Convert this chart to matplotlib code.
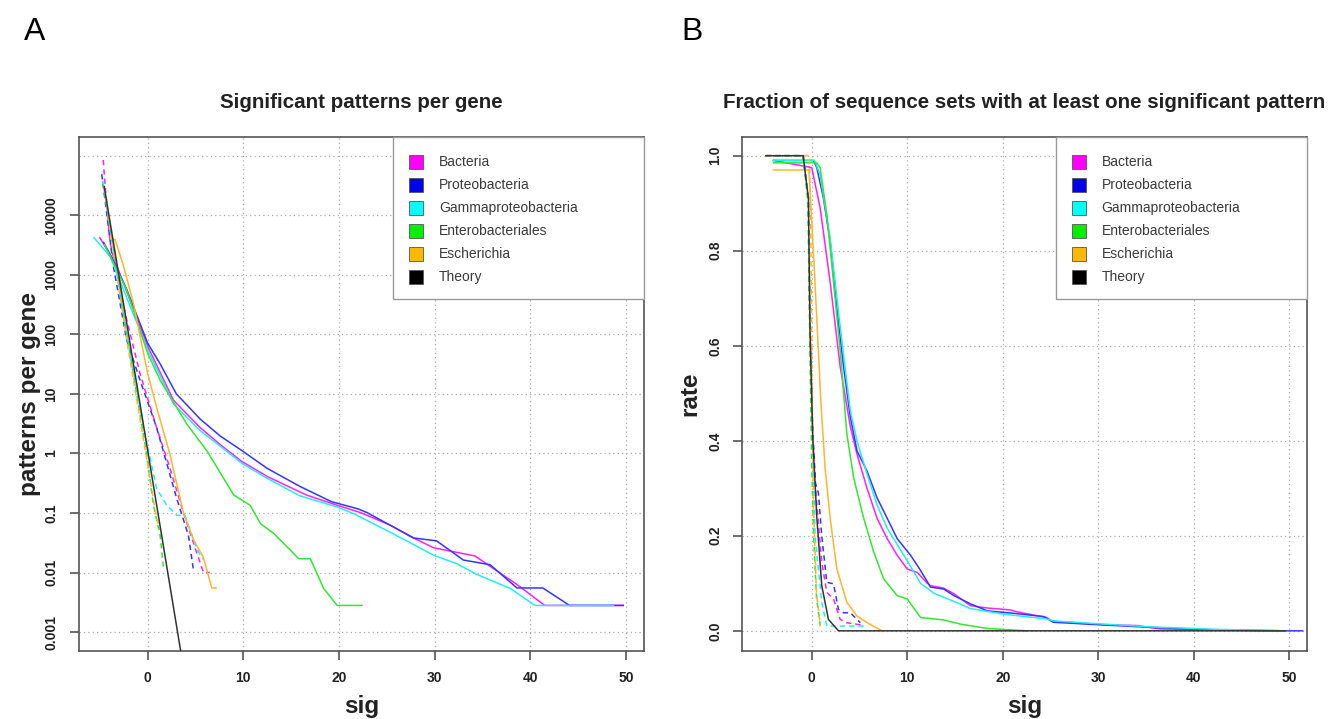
import matplotlib
matplotlib.use("Agg")
import matplotlib.pyplot as plt
from matplotlib.patches import Rectangle
from matplotlib.ticker import FixedLocator, NullFormatter

plt.rcParams['font.family'] = ['Liberation Sans', 'DejaVu Sans']

# ---------------- data ----------------
names = ["Bacteria", "Proteobacteria", "Gammaproteobacteria",
         "Enterobacteriales", "Escherichia", "Theory"]
line_colors = ["#FF22FF", "#3535FF", "#22EEF2", "#33E633", "#FFB52E", "#333333"]
legend_colors = ["#FF00FF", "#0000EE", "#00FFFF", "#00EE00", "#FFB800", "#000000"]

# Panel A: significant patterns per gene (solid = observed, dashed = shuffled)
a_bac_x = [-5.0, -3.25, 0, 2.7, 5.5, 7.6, 9.8, 12.5, 16.6, 19.8, 22.2, 25.4, 27.5, 29.9, 34.2, 38.6, 41.5, 49.7]
a_bac_y = [4200, 1450, 63, 7.8, 2.7, 1.4, 0.74, 0.41, 0.20, 0.135, 0.102, 0.062, 0.040, 0.026, 0.019, 0.0063, 0.0028, 0.0028]
a_pro_x = [-4.6, -3.9, -2.2, 0, 1.3, 3.0, 5.5, 7.6, 9.7, 12.5, 15.9, 19.2, 22.0, 22.9, 27.8, 30.2, 33.0, 35.8, 38.6, 41.3, 44.1, 49.7]
a_pro_y = [3500, 2150, 575, 71, 32, 10, 3.76, 1.95, 1.16, 0.56, 0.28, 0.155, 0.117, 0.102, 0.038, 0.034, 0.0162, 0.0135, 0.0055, 0.0055, 0.0028, 0.0028]
a_gam_x = [-5.6, -3.9, 0, 2.7, 5.5, 7.6, 9.8, 12.5, 15.9, 19.8, 21.5, 25.4, 29.9, 32.3, 34.4, 37.9, 40.5, 48.7]
a_gam_y = [4200, 2000, 55, 6.8, 2.4, 1.32, 0.69, 0.38, 0.195, 0.126, 0.098, 0.047, 0.0195, 0.0141, 0.0093, 0.0054, 0.0028, 0.0028]
a_ent_x = [-4.5, -2.2, 0, 1.3, 4.1, 6.2, 9.0, 10.7, 11.8, 13.2, 15.8, 17.0, 18.4, 19.8, 22.4]
a_ent_y = [3200, 560, 48, 17, 3.1, 1.1, 0.2, 0.135, 0.066, 0.045, 0.017, 0.017, 0.0054, 0.0028, 0.0028]
a_esc_x = [-3.9, -3.4, -2.55, -1.5, 0, 0.94, 2.34, 3.73, 4.78, 5.83, 6.7, 7.16]
a_esc_y = [4000, 3900, 1450, 340, 22, 5.9, 0.95, 0.102, 0.036, 0.0178, 0.0055, 0.0055]
a_the_x = [-4.54, 3.44]
a_the_y = [30200, 0.00049]

a_bac_dx = [-4.64, -4.5, -3.94, -2.2, -0.8, 0.94, 2.34, 3.73, 4.78, 5.83, 6.5]
a_bac_dy = [85000, 40000, 3600, 178, 22, 2.7, 0.56, 0.102, 0.0316, 0.01, 0.01]
a_pro_dx = [-4.8, -3.6, -2.2, -0.8, 0.94, 3.04, 4.26, 4.78]
a_pro_dy = [49000, 1450, 81, 17, 2.7, 0.174, 0.042, 0.0112]
a_gam_dx = [-4.7, -2.2, -0.28, 0.94, 2.0, 3.04, 3.9, 5.13, 5.83]
a_gam_dy = [38000, 100, 2.1, 0.257, 0.135, 0.091, 0.091, 0.0245, 0.0166]
a_ent_dx = [-4.64, -2.2, -0.1, 0.6, 1.3, 1.64]
a_ent_dy = [33000, 105, 0.95, 0.135, 0.042, 0.0126]
a_esc_dx = [-4.57, -2.2, 0.07, 0.94, 1.3]
a_esc_dy = [29500, 81, 0.56, 0.079, 0.054]

# Panel B: fraction of sequence sets with at least one significant pattern
b_bac_x = [-4.0, 0.0, 0.88, 1.93, 2.98, 4.04, 4.74, 5.79, 6.84, 7.9, 8.95, 10.0, 11.05, 12.1, 12.44, 13.8, 14.9, 16.6, 18.4, 20.8, 21.5, 24.6, 25.2, 30.6, 34.1, 36.5, 42.0, 49.6]
b_bac_y = [0.99, 0.975, 0.89, 0.734, 0.556, 0.43, 0.372, 0.30, 0.237, 0.194, 0.159, 0.13, 0.123, 0.10, 0.095, 0.09, 0.078, 0.053, 0.048, 0.044, 0.04, 0.028, 0.02, 0.013, 0.011, 0.004, 0.002, 0.0]
b_pro_x = [-4.0, 0.18, 0.53, 1.23, 1.93, 2.63, 3.33, 4.04, 4.74, 5.79, 6.84, 7.9, 8.95, 10.35, 11.4, 12.44, 13.8, 14.9, 16.6, 18.4, 21.1, 24.3, 25.3, 29.9, 35.8, 42.7, 49.6, 51.4]
b_pro_y = [0.99, 0.99, 0.975, 0.91, 0.82, 0.68, 0.556, 0.45, 0.379, 0.336, 0.28, 0.237, 0.194, 0.159, 0.127, 0.092, 0.088, 0.074, 0.057, 0.042, 0.037, 0.030, 0.018, 0.013, 0.007, 0.0015, 0.0, 0.0]
b_gam_x = [-4.0, 0.3, 0.88, 1.93, 2.98, 4.04, 4.74, 5.79, 6.84, 7.9, 9.65, 11.4, 12.8, 15.6, 16.6, 20.1, 24.6, 25.3, 29.9, 35.8, 42.7, 49.6]
b_gam_y = [0.99, 0.99, 0.96, 0.826, 0.64, 0.464, 0.40, 0.33, 0.265, 0.216, 0.159, 0.10, 0.079, 0.056, 0.047, 0.035, 0.025, 0.021, 0.015, 0.008, 0.003, 0.0]
b_ent_x = [-4.0, 0.53, 0.88, 1.58, 2.28, 2.98, 3.68, 4.39, 5.44, 6.49, 7.54, 8.95, 10.0, 11.4, 13.8, 15.6, 18.4, 22.5]
b_ent_y = [0.985, 0.985, 0.975, 0.876, 0.734, 0.59, 0.414, 0.322, 0.237, 0.166, 0.109, 0.074, 0.067, 0.028, 0.023, 0.014, 0.005, 0.0]
b_esc_x = [-4.0, -0.3, -0.1, 0.3, 0.67, 0.95, 1.4, 1.93, 2.63, 3.68, 4.74, 6.14, 7.37]
b_esc_y = [0.97, 0.97, 0.9, 0.75, 0.6, 0.485, 0.343, 0.237, 0.13, 0.06, 0.031, 0.013, 0.0]
b_the_x = [-4.8, -0.9, -0.35, -0.18, 0.1, 0.53, 1.05, 1.75, 2.8, 49.6]
b_the_y = [1.0, 1.0, 0.91, 0.63, 0.41, 0.24, 0.095, 0.024, 0.0, 0.0]

b_bac_dx = [-4.8, -0.9, -0.35, -0.18, 0.1, 0.35, 1.05, 1.58, 2.28, 2.98, 3.68, 5.3]
b_bac_dy = [1.0, 1.0, 0.91, 0.63, 0.42, 0.31, 0.145, 0.081, 0.067, 0.024, 0.017, 0.012]
b_pro_dx = [-4.8, -0.9, -0.35, -0.18, 0.1, 0.4, 0.7, 1.05, 1.58, 2.28, 2.8, 3.33, 4.04, 5.1]
b_pro_dy = [1.0, 1.0, 0.91, 0.63, 0.42, 0.31, 0.29, 0.2, 0.102, 0.099, 0.045, 0.038, 0.038, 0.017]
b_gam_dx = [-4.8, -0.9, -0.35, -0.18, 0.0, 0.35, 1.05, 1.58, 5.8]
b_gam_dy = [1.0, 1.0, 0.91, 0.63, 0.48, 0.2, 0.06, 0.01, 0.01]
b_ent_dx = [-4.8, -0.9, -0.4, -0.2, 0.0, 0.2, 0.5, 0.9]
b_ent_dy = [1.0, 1.0, 0.9, 0.6, 0.35, 0.2, 0.07, 0.01]
b_esc_dx = [-4.8, -0.25, -0.1, 0.05, 0.2, 0.5, 0.9]
b_esc_dy = [1.0, 1.0, 0.85, 0.5, 0.25, 0.08, 0.01]

x_ticks = [0, 10, 20, 30, 40, 50]
a_yticks = [0.001, 0.01, 0.1, 1, 10, 100, 1000, 10000]
a_ylabels = ["0.001", "0.01", "0.1", "1", "10", "100", "1000", "10000"]
b_yticks = [0.0, 0.2, 0.4, 0.6, 0.8, 1.0]
b_ylabels = ["0.0", "0.2", "0.4", "0.6", "0.8", "1.0"]

# ---------------- figure ----------------
W, H = 1333, 719
fig = plt.figure(figsize=(W / 100, H / 100), dpi=100)

TOP, BOT = 136.7, 650.5
A_L, A_R = 78.7, 644.0
B_L, B_R = 742.3, 1306.7

def px_axes(l, r):
    return [l / W, (H - BOT) / H, (r - l) / W, (BOT - TOP) / H]

axA = fig.add_axes(px_axes(A_L, A_R))
axB = fig.add_axes(px_axes(B_L, B_R))

SPINE = "#555555"
GRID = dict(color="#aaaaaa", linestyle=(0, (1, 2.5)), linewidth=0.9)
LW = 1.1
DASH = (0, (3.5, 2.6))

def style(ax):
    for s in ax.spines.values():
        s.set_color(SPINE)
        s.set_linewidth(1.2)
    ax.tick_params(which="major", direction="out", length=6.5, width=1.2,
                   color=SPINE, labelcolor="#222222", labelsize=10, pad=8)
    for lab in ax.get_xticklabels() + ax.get_yticklabels():
        lab.set_fontweight("bold")

# ----- panel A -----
axA.set_yscale("log")
solidA = [(a_bac_x, a_bac_y), (a_pro_x, a_pro_y), (a_gam_x, a_gam_y),
          (a_ent_x, a_ent_y), (a_esc_x, a_esc_y)]
dashA = [(a_bac_dx, a_bac_dy), (a_pro_dx, a_pro_dy), (a_gam_dx, a_gam_dy),
         (a_ent_dx, a_ent_dy), (a_esc_dx, a_esc_dy)]
for (x, y), c in zip(dashA, line_colors):
    axA.plot(x, y, color=c, lw=LW, linestyle=DASH, zorder=3)
for (x, y), c in zip(solidA, line_colors):
    axA.plot(x, y, color=c, lw=LW, zorder=3)
axA.plot(a_the_x, a_the_y, color=line_colors[5], lw=LW, zorder=4)
axA.set_xlim(-7.21, 51.88)
axA.set_ylim(10 ** -3.31, 10 ** 5.32)
axA.set_xticks(x_ticks)
axA.set_xticklabels([str(v) for v in x_ticks])
axA.yaxis.set_major_locator(FixedLocator(a_yticks))
axA.set_yticklabels(a_ylabels, rotation=90, va="center")
axA.yaxis.set_minor_locator(FixedLocator([1e5]))
axA.yaxis.set_minor_formatter(NullFormatter())
axA.tick_params(which="minor", length=0)
axA.grid(True, which="both", **GRID)
axA.set_axisbelow(True)
style(axA)

# ----- panel B -----
solidB = [(b_bac_x, b_bac_y), (b_pro_x, b_pro_y), (b_gam_x, b_gam_y),
          (b_ent_x, b_ent_y), (b_esc_x, b_esc_y)]
dashB = [(b_bac_dx, b_bac_dy), (b_pro_dx, b_pro_dy), (b_gam_dx, b_gam_dy),
         (b_ent_dx, b_ent_dy), (b_esc_dx, b_esc_dy)]
for (x, y), c in zip(solidB, line_colors):
    axB.plot(x, y, color=c, lw=LW, zorder=3)
for (x, y), c in zip(dashB, line_colors):
    axB.plot(x, y, color=c, lw=LW, linestyle=DASH, zorder=3)
axB.plot(b_the_x, b_the_y, color=line_colors[5], lw=LW, zorder=4)
axB.set_xlim(-7.27, 51.83)
axB.set_ylim(-0.0414, 1.04)
axB.set_xticks(x_ticks)
axB.set_xticklabels([str(v) for v in x_ticks])
axB.set_yticks(b_yticks)
axB.set_yticklabels(b_ylabels, rotation=90, va="center")
axB.grid(True, **GRID)
axB.set_axisbelow(True)
style(axB)

# ----- legends (R-style box anchored at top-right of plot region) -----
def draw_legend(ax, left, right):
    w, h = right - left, BOT - TOP
    fx = lambda px: (px - left) / w
    fy = lambda py: (BOT - py) / h
    box_l = right - 250.7
    ax.add_patch(Rectangle((fx(box_l), fy(299.3)), fx(right) - fx(box_l),
                           fy(TOP) - fy(299.3), transform=ax.transAxes,
                           facecolor="white", edgecolor="#999999", lw=1.0,
                           zorder=6, clip_on=False))
    for i, (nm, c) in enumerate(zip(names, legend_colors)):
        cy = 161.7 + 23.0 * i
        ax.add_patch(Rectangle((fx(box_l + 15.7), fy(cy + 7)), 14 / w, 14 / h,
                               transform=ax.transAxes, facecolor=c,
                               edgecolor="#555555", lw=0.6, zorder=7,
                               clip_on=False))
        ax.text(fx(box_l + 45.5), fy(cy), nm, transform=ax.transAxes,
                ha="left", va="center", fontsize=10, color="#3a3a3a", zorder=8)

draw_legend(axA, A_L, A_R)
draw_legend(axB, B_L, B_R)

# ----- texts -----
fig.text(35 / W, 1 - 32 / H, "A", fontsize=23, ha="center", va="center")
fig.text(692 / W, 1 - 32 / H, "B", fontsize=23, ha="center", va="center")
fig.text((A_L + A_R) / 2 / W, 1 - 103 / H, "Significant patterns per gene",
         fontsize=14.8, fontweight="bold", ha="center", va="center", color="#222222")
fig.text((B_L + B_R) / 2 / W, 1 - 103 / H,
         "Fraction of sequence sets with at least one significant pattern",
         fontsize=14.8, fontweight="bold", ha="center", va="center", color="#222222")
fig.text(30 / W, 1 - (TOP + BOT) / 2 / H, "patterns per gene", rotation=90,
         fontsize=17.5, fontweight="bold", ha="center", va="center", color="#222222")
fig.text(690 / W, 1 - (TOP + BOT) / 2 / H, "rate", rotation=90,
         fontsize=17.5, fontweight="bold", ha="center", va="center", color="#222222")
fig.text((A_L + A_R) / 2 / W, 1 - 706 / H, "sig", fontsize=17.5,
         fontweight="bold", ha="center", va="center", color="#222222")
fig.text((B_L + B_R) / 2 / W, 1 - 706 / H, "sig", fontsize=17.5,
         fontweight="bold", ha="center", va="center", color="#222222")

fig.savefig("out.png", dpi=100)
